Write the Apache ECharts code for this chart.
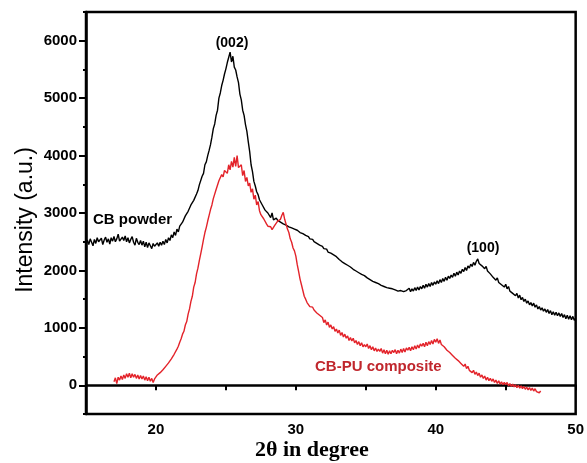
<!DOCTYPE html>
<html>
<head>
<meta charset="utf-8">
<script src="https://cdn.jsdelivr.net/npm/echarts@6/dist/echarts.min.js"></script>
<style>html,body{margin:0;padding:0;background:#fff}#c{width:587px;height:463px}</style>
</head>
<body>
<div id="c"></div>
<script>
// X grid of the scans (2θ, degrees)
const powderStart = 15.0, powderStep = 0.1;
const compositeStart = 17.0, compositeStep = 0.1;

// CB powder intensity (a.u.), 15.0 → 50.0 every 0.1°
const powderIntensity = [
2460,2530,2450,2550,2490,2430,2540,2470,2570,2500,
2480,2560,2450,2530,2580,2490,2550,2460,2570,2510,
2590,2500,2550,2630,2510,2480,2580,2520,2600,2500,
2570,2480,2540,2590,2490,2440,2560,2490,2450,2520,
2440,2510,2410,2490,2400,2480,2430,2380,2470,2420,
2400,2480,2420,2490,2440,2510,2450,2540,2480,2570,
2520,2620,2570,2670,2610,2720,2670,2770,2750,2840,
2850,2950,2940,3030,3040,3140,3140,3220,3250,3330,
3390,3490,3520,3640,3690,3840,3890,4000,4090,4190,
4320,4470,4550,4700,4790,5000,5090,5220,5310,5420,
5510,5620,5650,5800,5630,5730,5540,5490,5370,5270,
5070,4970,4790,4700,4540,4420,4240,4070,3840,3720,
3550,3470,3370,3320,3230,3210,3140,3130,3050,3060,
3000,2980,2920,3000,2880,2890,2910,2870,2870,2840,
2840,2810,2820,2790,2800,2760,2780,2740,2750,2720,
2720,2700,2700,2660,2680,2640,2650,2610,2620,2590,
2550,2530,2540,2500,2510,2470,2480,2440,2450,2420,
2380,2360,2370,2320,2330,2300,2300,2270,2280,2240,
2220,2190,2190,2150,2150,2120,2130,2090,2100,2060,
2050,2020,2020,1990,1990,1960,1970,1930,1940,1910,
1900,1870,1870,1840,1840,1810,1820,1790,1800,1770,
1770,1740,1750,1720,1730,1700,1720,1690,1700,1680,
1690,1660,1680,1640,1670,1650,1660,1630,1650,1650,
1620,1690,1630,1680,1640,1700,1650,1710,1660,1720,
1680,1740,1690,1760,1710,1770,1720,1790,1740,1800,
1760,1820,1770,1840,1790,1860,1810,1880,1830,1900,
1860,1920,1880,1950,1900,1970,1920,1990,1950,2020,
1980,2050,2000,2080,2040,2110,2070,2140,2090,2160,
2200,2120,2150,2080,2110,2030,2070,1990,2020,1940,
1970,1880,1910,1830,1870,1790,1820,1750,1780,1710,
1760,1680,1720,1640,1670,1600,1630,1560,1600,1520,
1570,1490,1530,1460,1500,1430,1470,1400,1440,1380,
1430,1360,1400,1330,1370,1310,1350,1290,1330,1270,
1320,1250,1300,1230,1280,1220,1270,1210,1260,1200,
1250,1180,1230,1160,1220,1150,1210,1140,1200,1130,
1170
];

// CB-PU composite intensity (a.u.), 17.0 → 47.5 every 0.1°
const compositeIntensity = [
60,130,30,140,90,160,100,180,120,200,
140,210,130,200,140,190,120,180,110,170,
110,160,90,150,80,140,70,120,50,110,
120,180,150,220,210,270,270,330,320,390,
390,460,460,540,560,630,680,750,810,890,
940,1050,1110,1240,1330,1460,1550,1710,1790,1940,
2040,2170,2290,2410,2540,2660,2750,2860,2960,3060,
3140,3250,3280,3410,3430,3560,3560,3670,3630,3740,
3740,3690,3840,3750,3900,3800,3970,3810,4000,3790,
3760,3840,3650,3740,3550,3620,3470,3520,3360,3420,
3240,3310,3140,3200,3040,2970,2990,2900,2890,2810,
2770,2750,2760,2710,2750,2790,2810,2860,2890,2890,
2960,3010,2890,2860,2720,2660,2550,2490,2390,2340,
2250,2100,1980,1850,1750,1650,1550,1500,1440,1420,
1370,1350,1360,1310,1310,1260,1270,1220,1220,1180,
1090,1140,1050,1100,1010,1050,980,1020,940,980,
910,960,870,920,840,890,820,860,780,830,
770,820,740,780,710,760,690,740,670,710,
670,720,640,690,620,670,600,650,590,630,
590,640,560,620,550,610,540,600,550,610,
570,620,550,610,560,630,570,640,580,650,
610,660,600,670,620,690,630,700,650,720,
680,730,670,750,690,760,710,780,720,800,
750,810,730,790,710,740,670,690,610,630,
570,600,520,550,470,500,430,440,380,390,
330,370,290,330,260,290,220,260,190,230,
170,210,140,180,120,160,90,140,80,120,
70,110,50,90,30,80,20,60,10,50,
10,50,-10,30,-20,20,-30,10,-40,0,
-50,-10,-60,-20,-70,-30,-80,-40,-90,-50,
-100,-60,-110,-80,-130,-100
];

const seriesNames = ['CB powder', 'CB-PU composite'];
const peakLabels = ['(002)', '(100)'];
const xTickLabels = [20, 30, 40, 50];
const yTickLabels = [0, 1000, 2000, 3000, 4000, 5000, 6000];

function toPairs(start, step, ys) {
  return ys.map((v, i) => [Math.round((start + i * step) * 10) / 10, v]);
}

const chart = echarts.init(document.getElementById('c'), null, {renderer: 'canvas'});
const labelFont = {fontFamily: 'Liberation Sans, Arial, sans-serif', fontWeight: 'bold', fontSize: 15, color: '#000'};

chart.setOption({
  animation: false,
  backgroundColor: '#fff',
  grid: {left: 86, right: 6, top: 12, bottom: 49, show: true, borderColor: '#000', borderWidth: 2.5, backgroundColor: 'transparent'},
  xAxis: {
    type: 'value', min: 15, max: 50, interval: 5,
    axisLine: {show: true, lineStyle: {color: '#000', width: 2.5}},
    axisTick: {show: true, inside: false, length: 5, lineStyle: {color: '#000', width: 2}},
    splitLine: {show: false},
    axisLabel: Object.assign({margin: 8, showMaxLabel: true, formatter: v => xTickLabels.indexOf(v) >= 0 ? String(v) : ''}, labelFont)
  },
  yAxis: [{
    type: 'value', min: -500, max: 6500, interval: 500,
    axisLine: {show: true, lineStyle: {color: '#000', width: 2.5}},
    axisTick: {show: true, length: 3, lineStyle: {color: '#000', width: 2}},
    splitLine: {show: false},
    axisLabel: Object.assign({margin: 9, formatter: v => yTickLabels.indexOf(v) >= 0 ? String(v) : ''}, labelFont)
  }, {
    type: 'value', min: -500, max: 6500, interval: 500, position: 'left',
    axisLine: {show: false},
    axisTick: {show: true, length: 7, customValues: yTickLabels, lineStyle: {color: '#000', width: 2}},
    splitLine: {show: false},
    axisLabel: {show: false}
  }],
  series: [{
    name: seriesNames[0], type: 'line', showSymbol: false, silent: true,
    data: toPairs(powderStart, powderStep, powderIntensity),
    lineStyle: {color: '#000', width: 1.4}
  }, {
    name: seriesNames[1], type: 'line', showSymbol: false, silent: true,
    data: toPairs(compositeStart, compositeStep, compositeIntensity),
    lineStyle: {color: '#e3232a', width: 1.4}
  }],
  graphic: [
    {type: 'text', left: 255, top: 439, style: {text: '2θ in degree', font: 'bold 22px "Liberation Serif", "Times New Roman", serif', fill: '#000'}},
    {type: 'text', x: 26, y: 220, rotation: Math.PI / 2, style: {text: 'Intensity (a.u.)', font: '23px "Liberation Sans", Arial, sans-serif', fill: '#000', textAlign: 'center', textVerticalAlign: 'middle'}},
    {type: 'text', x: 232, y: 43, style: {text: peakLabels[0], font: 'bold 14px "Liberation Sans", Arial, sans-serif', fill: '#000', textAlign: 'center', textVerticalAlign: 'middle'}},
    {type: 'text', x: 483, y: 248, style: {text: peakLabels[1], font: 'bold 14px "Liberation Sans", Arial, sans-serif', fill: '#000', textAlign: 'center', textVerticalAlign: 'middle'}},
    {type: 'text', x: 93, y: 220, style: {text: seriesNames[0], font: 'bold 15px "Liberation Sans", Arial, sans-serif', fill: '#000', textAlign: 'left', textVerticalAlign: 'middle'}},
    {type: 'text', x: 315, y: 367, style: {text: seriesNames[1], font: 'bold 15px "Liberation Sans", Arial, sans-serif', fill: '#c0272d', textAlign: 'left', textVerticalAlign: 'middle'}}
  ]
});
</script>
</body>
</html>
